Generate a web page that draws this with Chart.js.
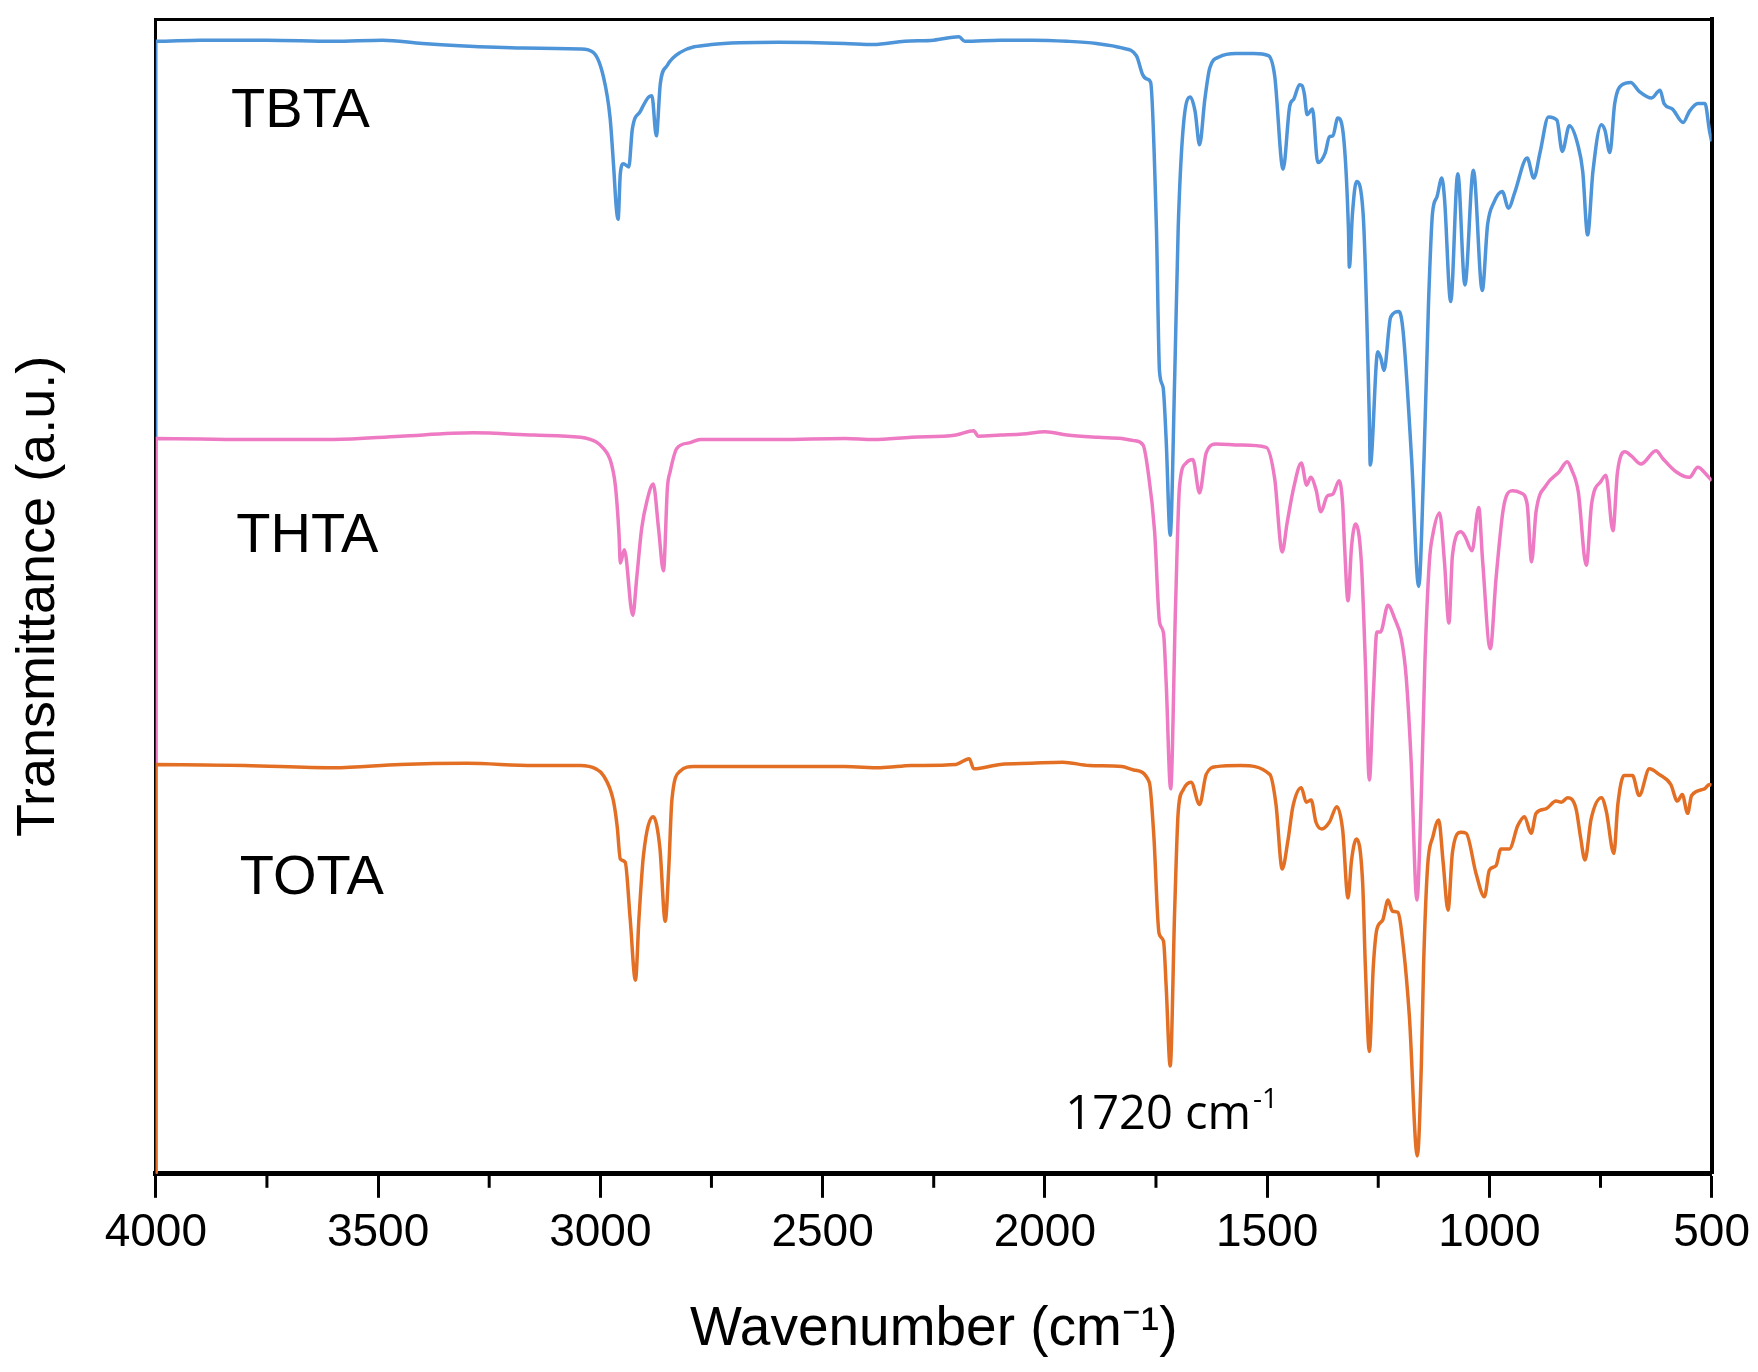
<!DOCTYPE html>
<html>
<head>
<meta charset="utf-8">
<script src="https://cdn.jsdelivr.net/npm/chart.js@4.4.1/dist/chart.umd.min.js"></script>
<style>
  html, body { margin: 0; padding: 0; background: #fff; }
  canvas { display: block; }
</style>
</head>
<body>
<canvas id="ftir" width="1758" height="1372"></canvas>
<script>
// FTIR spectra, transmittance in arbitrary units (traces stacked)
const tbtaWn = [4000,4000,3900,3750,3600,3490,3400,3317,3174,3045,3016,2993,2978,2970,2964,2960,2955,2948,2936,2928,2910,2891,2884,2874,2865,2850,2820,2750,2600,2450,2386,2315,2250,2193,2180,2100,2027,1950,1884,1827,1794,1780,1770,1762,1749,1742,1734,1727,1718,1708,1700,1689,1673,1662,1652,1640,1629,1607,1570,1530,1497,1483,1464,1449,1440,1427,1421,1416,1410,1398,1386,1369,1360,1352,1341,1327,1317,1315,1308,1299,1284,1270,1268,1251,1244,1237,1222,1203,1194,1175,1159,1147,1137,1128,1118,1107,1101,1087,1071,1055,1036,1016,1004,990,971,957,943,915,900,886,867,848,836,820,801,790,779,767,748,740,729,718,701,682,663,635,616,607,588,564,550,531,515,505,500];
const tbtaT  = [0,1018,1019,1019,1018,1019,1016,1014,1012,1011,1008,986,949,905,868,858,899,908,905,939,955,968,969,933,980,996,1008,1015,1017,1016,1015,1018,1019,1022,1018,1019,1019,1018,1016,1012,1005,988,984,981,850,721,707,659,574,714,850,939,968,955,925,966,994,1004,1007,1007,1005,987,903,960,966,979,978,970,952,957,909,918,932,933,949,928,849,815,863,892,863,678,637,739,733,722,770,775,757,643,528,643,781,863,878,895,877,784,899,799,902,794,853,873,883,868,882,913,895,918,950,947,919,942,925,901,844,901,943,938,918,962,979,981,973,967,974,962,957,945,955,962,962,938,928];

const thtaWn = [4000,4000,3800,3600,3450,3286,3150,3045,3010,2993,2978,2966,2958,2955,2946,2927,2918,2907,2895,2881,2869,2858,2849,2843,2828,2800,2775,2600,2450,2386,2300,2200,2160,2150,2100,2050,1999,1950,1880,1827,1800,1779,1768,1753,1742,1733,1727,1717,1706,1697,1682,1667,1652,1637,1614,1560,1502,1483,1466,1455,1440,1423,1411,1402,1390,1379,1365,1352,1338,1330,1326,1318,1310,1301,1288,1279,1270,1261,1253,1245,1228,1213,1198,1187,1176,1163,1153,1145,1135,1127,1112,1101,1091,1083,1064,1055,1039,1024,1015,998,985,970,962,948,929,915,905,895,872,843,825,815,800,782,770,748,738,722,712,695,680,659,625,610,580,550,531,515,500];
const thtaT  = [0,661,660,660,663,666,664,662,658,652,642,618,575,549,561,502,536,580,605,620,580,542,617,631,652,657,660,660,661,660,662,664,668,663,664,665,667,664,662,661,659,655,632,577,496,486,441,346,510,618,639,642,612,648,656,655,653,625,559,585,617,639,619,626,615,595,609,611,623,602,567,515,564,584,550,460,354,431,487,487,511,499,481,446,371,246,342,460,550,575,594,550,495,556,577,573,560,599,550,472,535,594,609,614,612,602,550,595,619,631,640,633,613,547,602,623,628,578,630,649,645,638,650,643,631,626,635,630,623];

const totaWn = [4000,4000,3800,3600,3450,3300,3150,3045,3010,2993,2971,2962,2955,2944,2933,2921,2913,2903,2881,2866,2854,2846,2839,2820,2790,2600,2450,2370,2300,2200,2170,2160,2100,2030,1960,1900,1827,1800,1765,1755,1743,1733,1727,1718,1708,1700,1689,1671,1652,1637,1614,1560,1494,1480,1466,1453,1442,1423,1412,1401,1390,1377,1360,1343,1330,1318,1310,1299,1285,1279,1270,1261,1253,1240,1228,1218,1206,1193,1180,1162,1153,1148,1139,1127,1114,1104,1093,1083,1064,1052,1030,1011,1000,985,974,955,936,921,906,895,873,850,838,824,805,795,785,771,748,737,720,711,697,678,663,640,618,592,577,566,554,545,516,505,500];
const totaT  = [0,368,367,365,368,369,367,367,364,358,336,312,283,280,230,174,230,286,321,293,227,275,336,362,366,366,366,365,367,368,373,364,368,369,370,367,366,363,352,305,216,209,168,97,236,325,345,352,332,359,366,367,359,332,274,300,330,347,334,336,316,310,316,330,309,248,282,301,261,187,110,187,220,228,246,236,235,202,142,16,98,187,276,303,318,280,237,289,307,306,270,249,273,277,292,292,313,321,306,324,328,335,334,338,328,303,282,319,338,326,288,332,358,358,340,364,359,350,335,341,324,340,346,350,349];

const sampleNames = ['TBTA', 'THTA', 'TOTA'];
const majorTicks = [4000, 3500, 3000, 2500, 2000, 1500, 1000, 500];
const minorTicks = [3750, 3250, 2750, 2250, 1750, 1250, 750];

const pts = (wn, t) => wn.map((w, i) => ({x: w, y: t[i]}));

// where the text labels sit, in axis units
const nameAnchors = [[3831, 955], [3819, 573], [3811, 265]];
const peakNote = {wn: 1954, t: 52};

const extras = {
  id: 'extras',
  afterDraw(chart) {
    const {ctx, chartArea, scales: {x, y}} = chart;
    ctx.save();
    // minor ticks between the labelled ones
    ctx.strokeStyle = '#000';
    ctx.lineWidth = 3;
    minorTicks.forEach(v => {
      const px = x.getPixelForValue(v);
      ctx.beginPath();
      ctx.moveTo(px, chartArea.bottom);
      ctx.lineTo(px, chartArea.bottom + 14);
      ctx.stroke();
    });
    // sample names
    ctx.fillStyle = '#000';
    ctx.textAlign = 'left';
    ctx.textBaseline = 'middle';
    ctx.font = '56px "Liberation Sans"';
    sampleNames.forEach((n, i) => {
      ctx.fillText(n, x.getPixelForValue(nameAnchors[i][0]), y.getPixelForValue(nameAnchors[i][1]));
    });
    // carbonyl band note
    const nx = x.getPixelForValue(peakNote.wn), ny = y.getPixelForValue(peakNote.t);
    ctx.font = '47px "Open Sans"';
    ctx.fillText('1720 cm', nx, ny);
    const w = ctx.measureText('1720 cm').width;
    ctx.font = '28px "Open Sans"';
    ctx.fillText('-1', nx + w + 2, ny - 16);
    ctx.restore();
  }
};

const trace = (label, wn, t, color) => ({
  label, data: pts(wn, t), borderColor: color, borderWidth: 3.5,
  pointRadius: 0, cubicInterpolationMode: 'monotone', fill: false
});

new Chart(document.getElementById('ftir'), {
  type: 'line',
  data: {
    datasets: [
      trace('TOTA', totaWn, totaT, '#e36f24'),
      trace('THTA', thtaWn, thtaT, '#ee7ac3'),
      trace('TBTA', tbtaWn, tbtaT, '#4d94d8')
    ]
  },
  options: {
    responsive: false,
    devicePixelRatio: 1,
    animation: false,
    layout: {padding: {left: 0, top: 19, right: 43, bottom: 9}},
    plugins: {legend: {display: false}, tooltip: {enabled: false}},
    scales: {
      x: {
        type: 'linear', position: 'bottom', reverse: true, min: 500, max: 4000,
        afterBuildTicks: s => { s.ticks = majorTicks.map(v => ({value: v})); },
        ticks: {color: '#000', padding: 8, font: {family: 'Liberation Sans', size: 46}, maxRotation: 0,
                callback: v => String(v)},
        grid: {display: true, drawOnChartArea: false, drawTicks: true, tickLength: 24, tickWidth: 3, tickColor: '#000'},
        border: {display: true, color: '#000', width: 5},
        title: {display: true, text: 'Wavenumber (cm\u207B\u00B9)', color: '#000',
                font: {family: 'Liberation Sans', size: 55}, padding: {top: 28, bottom: 0}}
      },
      xTop: {
        type: 'linear', position: 'top', min: 500, max: 4000,
        ticks: {display: false},
        grid: {display: false, drawTicks: false},
        border: {display: true, color: '#000', width: 3}
      },
      y: {
        type: 'linear', position: 'left', min: 0, max: 1038,
        ticks: {display: false},
        grid: {display: false, drawTicks: false},
        border: {display: true, color: '#000', width: 3},
        title: {display: true, text: 'Transmittance (a.u.)', color: '#000',
                font: {family: 'Liberation Sans', size: 54}, padding: {top: 7, bottom: 84}}
      },
      yRight: {
        type: 'linear', position: 'right', min: 0, max: 1038,
        ticks: {display: false},
        grid: {display: false, drawTicks: false},
        border: {display: true, color: '#000', width: 4}
      }
    }
  },
  plugins: [extras]
});
</script>
</body>
</html>
